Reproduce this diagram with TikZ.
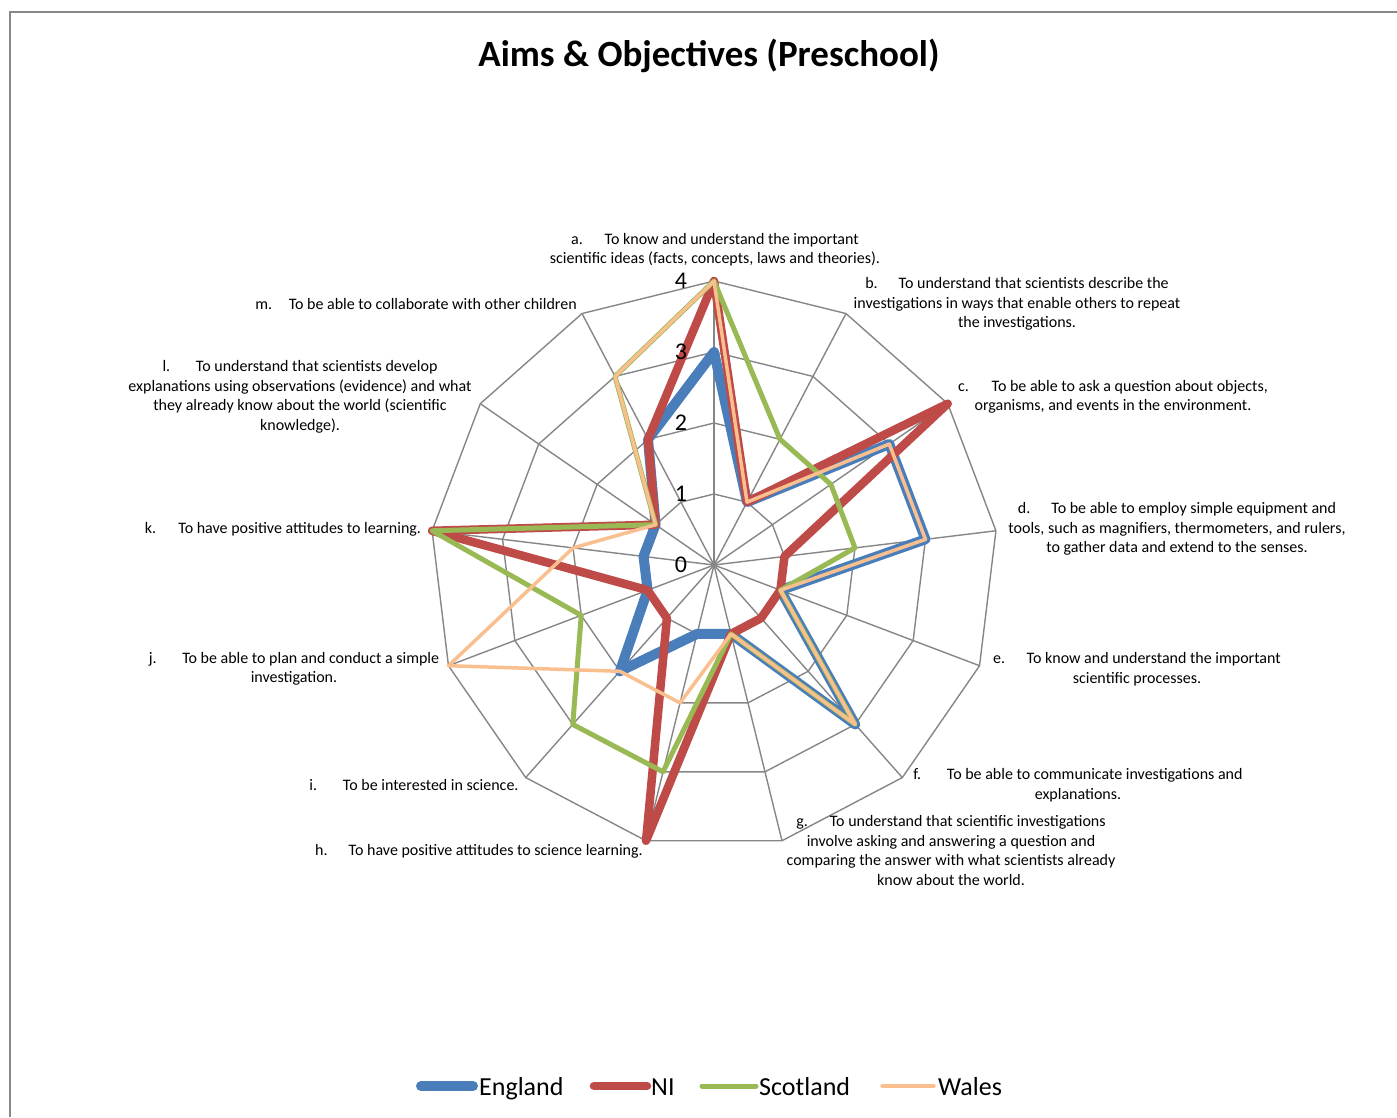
\documentclass[tikz,border=0pt]{standalone}
\usepackage{fontspec}
\setmainfont{Carlito}
\usetikzlibrary{calc}
\definecolor{engc}{HTML}{4A7EBB}
\definecolor{nic}{HTML}{BE4B48}
\definecolor{scoc}{HTML}{98B954}
\definecolor{walc}{HTML}{F9BF8F}
\definecolor{gridc}{HTML}{868686}
\definecolor{framec}{HTML}{888888}
\newcommand\pre[1]{\makebox[33.5pt][l]{#1}}
\newcommand\defseries[2]{\foreach \v [count=\i from 0] in {#2} {\coordinate (#1\i) at ({\i*360/13-90}:{\v*71});}}
\tikzset{
 gridln/.style={draw=gridc, line width=1.4pt},
 eng/.style={draw=engc, line width=10pt, line join=round, line cap=round},
 ni/.style={draw=nic, line width=8.5pt, line join=round, line cap=round},
 sco/.style={draw=scoc, line width=5pt, line join=round, line cap=round},
 wal/.style={draw=walc, line width=3.5pt, line join=round, line cap=round},
 lbl/.style={align=center, font=\fontsize{16}{19.5}\selectfont, inner sep=0pt},
 ticklbl/.style={font=\fontsize{24}{28}\selectfont, inner sep=0pt},
 legtxt/.style={font=\fontsize{26}{30}\selectfont, inner sep=0pt, anchor=base west},
 frameln/.style={draw=framec, line width=1.5pt}
}
\begin{document}
\begin{tikzpicture}[x=1pt,y=-1pt]
\useasboundingbox (0,0) rectangle (1397,1117);
\fill[white] (0,0) rectangle (1397,1117);
\draw[frameln] (10,1117) -- (10,12) -- (1397,12);
\node[font=\bfseries\fontsize{37}{44}\selectfont, inner sep=0pt] (title) at (709,56) {Aims \& Objectives (Preschool)};
\coordinate (C) at (714,565);
\begin{scope}[shift={(C)}]
 % grid
 \foreach \i in {0,...,12} {\draw[gridln] (0,0) -- ({\i*360/13-90}:284);}
 \foreach \r in {1,2,3,4} {\draw[gridln] (-90:\r*71) \foreach \i in {1,...,12} { -- ({\i*360/13-90}:\r*71)} -- cycle;}
 % data
 \defseries{E}{3,1,3,3,1,3,1,1,2,1,1,1,2}
 \defseries{N}{4,1,4,1,1,1,1,4,1,1,4,1,2}
 \defseries{S}{4,2,2,2,1,3,1,3,3,2,4,1,3}
 \defseries{W}{4,1,3,3,1,3,1,2,2,4,2,1,3}
 \draw[eng] (E0) \foreach \i in {1,...,12} { -- (E\i)} -- cycle;
 \draw[ni] (N0) \foreach \i in {1,...,12} { -- (N\i)} -- cycle;
 \draw[sco] (S0) \foreach \i in {1,...,12} { -- (S\i)} -- cycle;
 \draw[wal] (W0) \foreach \i in {1,...,12} { -- (W\i)} -- cycle;
\end{scope}
% tick labels
\foreach \k in {0,...,4} {\node[ticklbl] (t\k) at (681,{565-71*\k}) {\k};}
% axis labels
\node[lbl] (la) at (715,249.5) {\pre{a.}To know and understand the important\\scientific ideas (facts, concepts, laws and theories).};
\node[lbl] (lb) at (1017,304) {\pre{b.}To understand that scientists describe the\\investigations in ways that enable others to repeat\\the investigations.};
\node[lbl] (lc) at (1113,397) {\pre{c.}To be able to ask a question about objects,\\organisms, and events in the environment.};
\node[lbl] (ld) at (1177,529) {\pre{d.}To be able to employ simple equipment and\\tools, such as magnifiers, thermometers, and rulers,\\to gather data and extend to the senses.};
\node[lbl] (le) at (1137,669) {\pre{e.}To know and understand the important\\scientific processes.};
\node[lbl] (lf) at (1078,785) {\pre{f.}To be able to communicate investigations and\\explanations.};
\node[lbl] (lg) at (951,850.5) {\pre{g.}To understand that scientific investigations\\involve asking and answering a question and\\comparing the answer with what scientists already\\know about the world.};
\node[lbl] (lh) at (479,851) {\pre{h.}To have positive attitudes to science learning.};
\node[lbl] (li) at (414,785) {\pre{i.}To be interested in science.};
\node[lbl] (lj) at (294,669) {\pre{j.}To be able to plan and conduct a simple\\investigation.};
\node[lbl] (lk) at (283,529) {\pre{k.}To have positive attitudes to learning.};
\node[lbl] (ll) at (300,397) {\pre{l.}To understand that scientists develop\\explanations using observations (evidence) and what\\they already know about the world (scientific\\knowledge).};
\node[lbl] (lm) at (416,304) {\pre{m.}To be able to collaborate with other children};
% legend
\coordinate (gE1) at (421,1086); \coordinate (gE2) at (473,1086);
\coordinate (gN1) at (594,1086); \coordinate (gN2) at (647,1086);
\coordinate (gS1) at (702,1086); \coordinate (gS2) at (756,1086);
\coordinate (gW1) at (882,1086); \coordinate (gW2) at (934,1086);
\draw[eng] (gE1) -- (gE2);
\draw[ni] (gN1) -- (gN2);
\draw[sco] (gS1) -- (gS2);
\draw[wal] (gW1) -- (gW2);
\node[legtxt] (tE) at (479,1095) {England};
\node[legtxt] (tN) at (651,1095) {NI};
\node[legtxt] (tS) at (759,1095) {Scotland};
\node[legtxt] (tW) at (938,1095) {Wales};
\end{tikzpicture}
\end{document}
